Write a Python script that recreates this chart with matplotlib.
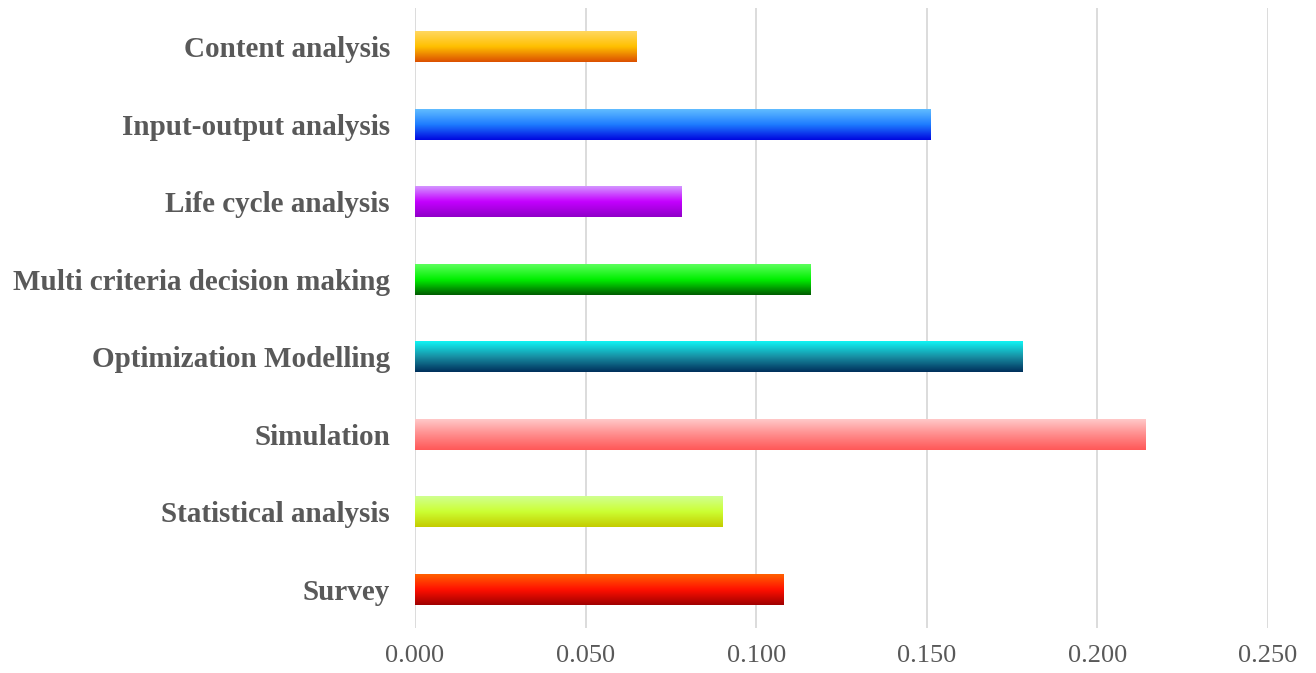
import numpy as np
import matplotlib
matplotlib.use("Agg")
import matplotlib.pyplot as plt
from matplotlib.colors import LinearSegmentedColormap

methods = ['Content analysis', 'Input-output analysis', 'Life cycle analysis',
           'Multi criteria decision making', 'Optimization Modelling',
           'Simulation', 'Statistical analysis', 'Survey']
scores = [0.065, 0.151, 0.078, 0.116, 0.178, 0.214, 0.090, 0.108]
xticks = [0.0, 0.05, 0.10, 0.15, 0.20, 0.25]

# top, middle, bottom colour of each bar's vertical gradient
grad_colors = [
    ['#FFD760', '#FFC000', '#DC5000'],
    ['#60BCFF', '#1E7CFF', '#0008E0'],
    ['#D494FF', '#C400FF', '#9000C8'],
    ['#5CFF5C', '#00F000', '#005C00'],
    ['#10F4F4', '#1890A4', '#00305C'],
    ['#FFC8C8', '#FF8C8C', '#FF5858'],
    ['#D0FF90', '#CCFF33', '#C4CC00'],
    ['#FF6000', '#FF1000', '#A00000'],
]

fig = plt.figure(figsize=(13.16, 6.73), dpi=100)
ax = fig.add_axes([0.3153, 0.067, 0.6483, 0.921])

ypos = np.arange(len(methods))
bars = ax.barh(ypos, scores, height=0.4, color='none', edgecolor='none')

for bar, cols in zip(bars, grad_colors):
    x0, y0 = bar.get_x(), bar.get_y()
    w, h = bar.get_width(), bar.get_height()
    cmap = LinearSegmentedColormap.from_list('g', cols)
    grad = np.linspace(0, 1, 64).reshape(-1, 1)
    # inverted y axis: first row of image sits at y0 (top)
    ax.imshow(grad, cmap=cmap, aspect='auto', extent=(x0, x0 + w, y0 + h, y0),
              origin='upper', zorder=3, interpolation='bicubic')

ax.set_xlim(0, 0.25)
ax.set_ylim(len(methods) - 0.5, -0.5)
ax.set_xticks(xticks)
ax.set_xticklabels([f'{t:.3f}' for t in xticks], fontfamily='Liberation Serif',
                   fontsize=19, color='#595959')
ax.set_yticks(ypos)
ax.set_yticklabels(methods, fontfamily='Liberation Serif', fontsize=21,
                   fontweight='bold', color='#595959')
ax.tick_params(axis='both', length=0)
ax.tick_params(axis='x', pad=12)
ax.tick_params(axis='y', pad=18)
ax.grid(axis='x', color='#d9d9d9', linewidth=1.3, zorder=0)
ax.set_axisbelow(True)
for s in ax.spines.values():
    s.set_visible(False)

fig.savefig('out.png', dpi=100)
